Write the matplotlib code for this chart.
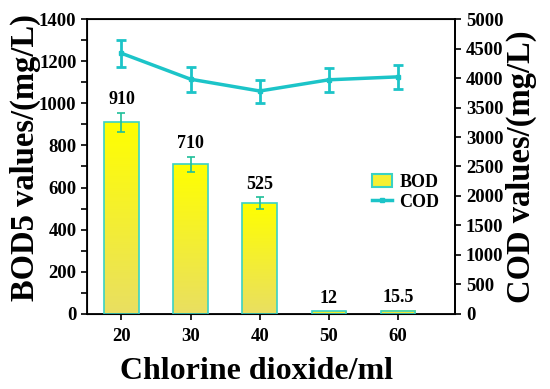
import matplotlib.pyplot as plt
import numpy as np
from matplotlib.patches import Patch
from matplotlib.lines import Line2D

plt.rcParams['font.family'] = 'Liberation Serif'
plt.rcParams['font.weight'] = 'bold'

dose = [20, 30, 40, 50, 60]
bod = [910, 710, 525, 12, 15.5]
bod_err = [45, 35, 28, 0, 0]
bod_labels = ['910', '710', '525', '12', '15.5']
cod = [4420, 3980, 3780, 3970, 4020]
cod_err = [230, 210, 195, 200, 205]

edge_c = '#3ad2c4'
err_c = '#1fbf9a'
line_c = '#1cc4c8'

fig = plt.figure(figsize=(5.5, 3.89), dpi=100)
ax = fig.add_axes([0.158, 0.193, 0.67, 0.758])

# gradient bars: bright yellow at top, duller at bottom
grad = np.linspace(0, 1, 256).reshape(-1, 1)
cmap = plt.matplotlib.colors.LinearSegmentedColormap.from_list('y', ['#e9df62', '#ffff00'])
bars = ax.bar(dose, bod, width=5, color='none', edgecolor=edge_c, linewidth=1.2, zorder=3)
for b in bars:
    x0, y0 = b.get_x(), b.get_y()
    w, h = b.get_width(), b.get_height()
    ax.imshow(grad, extent=[x0, x0 + w, y0, y0 + h], origin='lower', cmap=cmap,
              aspect='auto', zorder=2)
ax.errorbar(dose[:3], bod[:3], yerr=bod_err[:3], fmt='none', ecolor=err_c,
            elinewidth=1.2, capsize=3, capthick=1.2, zorder=4)
for x, y, e, t in zip(dose, bod, bod_err, bod_labels):
    ax.text(x, y + e + 22, t, ha='center', va='bottom', fontsize=13, fontweight='bold')

ax.set_xlim(15, 68.3)
ax.set_ylim(0, 1400)
ax.set_xticks(dose)
ax.set_yticks(np.arange(0, 1401, 200))
ax.set_yticks(np.arange(100, 1400, 200), minor=True)
ax.tick_params(axis='both', which='major', labelsize=13.5, width=1.2, length=4)
ax.tick_params(axis='y', which='minor', width=1.2, length=4)
ax.tick_params(axis='x', pad=6)
for s in ax.spines.values():
    s.set_linewidth(1.3)
ax.set_xlabel('Chlorine dioxide/ml', fontsize=23, fontweight='bold')
ax.set_ylabel('BOD5 values/(mg/L)', fontsize=23.5, fontweight='bold')
ax.xaxis.set_label_coords(0.46, -0.145)
ax.yaxis.set_label_coords(-0.125, 0.53)

ax2 = ax.twinx()
ax2.errorbar(dose, cod, yerr=cod_err, color=line_c, ecolor=line_c, linewidth=2.5,
             marker='s', markersize=3, elinewidth=2, capsize=3.3, capthick=2, zorder=5)
ax2.set_ylim(0, 5000)
ax2.set_yticks(np.arange(0, 5001, 500))
ax2.tick_params(axis='y', labelsize=13.5, width=1.2, length=4)
ax2.set_ylabel('COD values/(mg/L)', fontsize=23.5, fontweight='bold', labelpad=2)
ax2.spines['right'].set_linewidth(1.3)

handles = [Patch(facecolor='#f6f033', edgecolor=edge_c, linewidth=1.5),
           Line2D([0], [0], color=line_c, linewidth=2.5, marker='s', markersize=3)]
ax.legend(handles, ['BOD', 'COD'], loc='upper left', bbox_to_anchor=(0.73, 0.53),
          frameon=False, handlelength=1.1, handletextpad=0.4,
          labelspacing=0.15, prop={'weight': 'bold', 'size': 13})

fig.savefig('out.png', dpi=100)
